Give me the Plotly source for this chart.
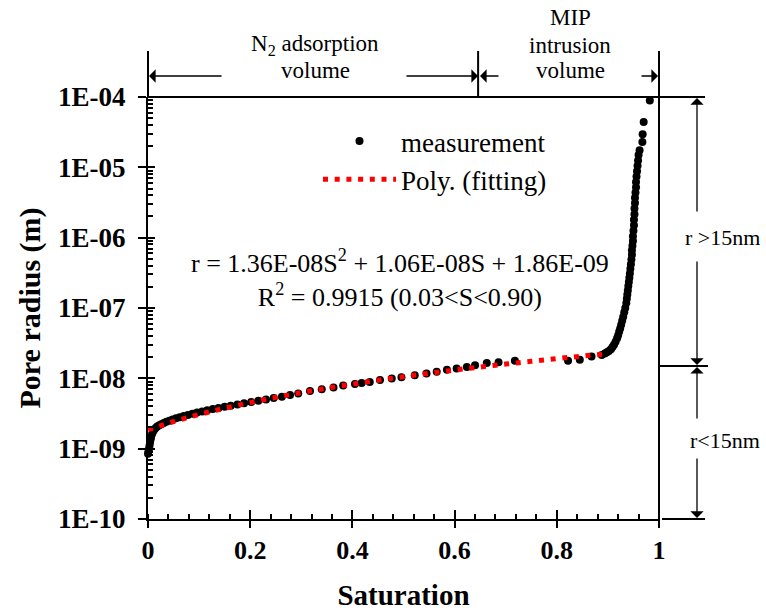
import math
import plotly.graph_objects as go

# ---------------- data ----------------
# N2 adsorption part of the measurement
S_N2 = [0.000, 0.001, 0.002, 0.003, 0.004, 0.005, 0.006, 0.008, 0.010, 0.012,
        0.015, 0.018, 0.022, 0.026, 0.031, 0.036, 0.042, 0.048, 0.055, 0.062,
        0.070, 0.078, 0.087, 0.096, 0.106, 0.116, 0.127, 0.138, 0.150, 0.162,
        0.175, 0.188, 0.202, 0.216, 0.231, 0.246, 0.262, 0.278, 0.294, 0.317,
        0.340, 0.363, 0.382, 0.405, 0.418, 0.434, 0.454, 0.477, 0.496, 0.522,
        0.545, 0.565, 0.585, 0.604, 0.624, 0.640, 0.663, 0.686, 0.718, 0.822,
        0.845, 0.868, 0.888]
R_N2 = [0.85e-9, 0.92e-9, 1.00e-9, 1.10e-9, 1.22e-9, 1.35e-9, 1.47e-9, 1.62e-9, 1.75e-9, 1.86e-9,
        1.97e-9, 2.06e-9, 2.15e-9, 2.23e-9, 2.32e-9, 2.41e-9, 2.50e-9, 2.60e-9, 2.70e-9, 2.80e-9,
        2.91e-9, 3.02e-9, 3.14e-9, 3.26e-9, 3.38e-9, 3.51e-9, 3.65e-9, 3.79e-9, 3.94e-9, 4.09e-9,
        4.26e-9, 4.43e-9, 4.62e-9, 4.81e-9, 5.02e-9, 5.24e-9, 5.48e-9, 5.80e-9, 6.10e-9, 6.60e-9,
        7.00e-9, 7.40e-9, 7.90e-9, 8.30e-9, 8.60e-9, 8.90e-9, 9.45e-9, 9.95e-9, 10.4e-9, 11.1e-9,
        11.7e-9, 12.4e-9, 13.2e-9, 13.8e-9, 14.5e-9, 15.3e-9, 16.5e-9, 17.0e-9, 17.8e-9, 17.8e-9,
        18.4e-9, 20.4e-9, 21.5e-9]

# MIP intrusion part of the measurement
S_MIP = [0.894, 0.898, 0.902, 0.906, 0.909, 0.912, 0.915, 0.918, 0.920, 0.922,
         0.924, 0.926, 0.928, 0.930, 0.932, 0.934, 0.936, 0.937, 0.938, 0.939,
         0.940, 0.941, 0.942, 0.943, 0.944, 0.945, 0.946, 0.947, 0.947, 0.948,
         0.949, 0.949, 0.950, 0.951, 0.951, 0.952, 0.952, 0.953, 0.953, 0.954,
         0.955, 0.955, 0.956, 0.957, 0.958, 0.959, 0.960, 0.962, 0.9675, 0.968,
         0.970, 0.982]
R_MIP = [2.25e-8, 2.35e-8, 2.45e-8, 2.6e-8, 2.8e-8, 3.0e-8, 3.3e-8, 3.7e-8, 4.1e-8, 4.6e-8,
         5.1e-8, 5.8e-8, 6.6e-8, 7.5e-8, 8.7e-8, 1.0e-7, 1.18e-7, 1.35e-7, 1.55e-7, 1.78e-7,
         2.05e-7, 2.35e-7, 2.7e-7, 3.1e-7, 3.6e-7, 4.2e-7, 4.9e-7, 5.7e-7, 6.6e-7, 7.7e-7,
         9.0e-7, 1.05e-6, 1.25e-6, 1.5e-6, 1.8e-6, 2.15e-6, 2.6e-6, 3.1e-6, 3.7e-6, 4.4e-6,
         5.2e-6, 6.2e-6, 7.4e-6, 8.8e-6, 1.05e-5, 1.25e-5, 1.5e-5, 1.75e-5, 2.3e-5, 2.95e-5,
         4.4e-5, 8.9e-5]

# polynomial fitting curve (red dotted line)
S_FIT = [0.00, 0.05, 0.10, 0.15, 0.20, 0.25, 0.30, 0.35, 0.40, 0.45,
         0.50, 0.55, 0.60, 0.65, 0.70, 0.75, 0.80, 0.85, 0.90]
R_FIT = [1.860e-9, 2.424e-9, 3.056e-9, 3.756e-9, 4.524e-9, 5.360e-9, 6.264e-9, 7.236e-9,
         8.276e-9, 9.384e-9, 1.056e-8, 1.180e-8, 1.312e-8, 1.450e-8, 1.594e-8, 1.746e-8,
         1.904e-8, 2.070e-8, 2.242e-8]

X_TICK_VALS = [0, 0.2, 0.4, 0.6, 0.8, 1]
X_TICK_TEXT = ["0", "0.2", "0.4", "0.6", "0.8", "1"]
Y_TICK_VALS = [1e-10, 1e-9, 1e-8, 1e-7, 1e-6, 1e-5, 1e-4]
Y_TICK_TEXT = ["1E-10", "1E-09", "1E-08", "1E-07", "1E-06", "1E-05", "1E-04"]

S_BOUNDARY = 0.646          # N2 / MIP boundary
R_THRESHOLD = 15e-9         # 15 nm

# ---------------- layout helpers ----------------
W, H = 766, 611
ML, MR, MT, MB = 148, 107, 97, 92
PW, PH = W - ML - MR, H - MT - MB
Y_LOG_MIN, Y_LOG_MAX = -10, -4


def px_x(p):
    return (p - ML) / PW


def px_y(p):
    return (H - MB - p) / PH


y_thr = (math.log10(R_THRESHOLD) - Y_LOG_MIN) / (Y_LOG_MAX - Y_LOG_MIN)

FONT = "'Liberation Serif', 'Times New Roman', Tinos, serif"
BLACK = "black"

fig = go.Figure()
fig.add_trace(go.Scatter(
    x=S_N2 + S_MIP, y=R_N2 + R_MIP, mode="markers", name="measurement",
    marker=dict(color=BLACK, size=8), cliponaxis=False))
fig.add_trace(go.Scatter(
    x=S_FIT, y=R_FIT, mode="lines", name="Poly. (fitting)",
    line=dict(color="#ff0000", width=5, dash="5px,6.7px", shape="spline")))
fig.add_trace(go.Scatter(x=[None], y=[None], xaxis="x2", yaxis="y2",
                         showlegend=False, hoverinfo="skip"))

minor_y = [d * 10.0 ** e for e in range(Y_LOG_MIN, Y_LOG_MAX) for d in range(2, 10)]

fig.update_layout(
    width=W, height=H,
    margin=dict(l=ML, r=MR, t=MT, b=MB, autoexpand=False),
    paper_bgcolor="white", plot_bgcolor="white",
    font=dict(family=FONT, color=BLACK),
    showlegend=True,
    legend=dict(x=px_x(318), y=px_y(117), xanchor="left", yanchor="top",
                bgcolor="rgba(0,0,0,0)", borderwidth=0,
                font=dict(family=FONT, size=27, color=BLACK),
                itemwidth=73, tracegroupgap=0),
    xaxis=dict(range=[0, 1], tickmode="array", tickvals=X_TICK_VALS, ticktext=X_TICK_TEXT,
               automargin=False,
               showgrid=False, zeroline=False, showline=True, linecolor=BLACK, linewidth=2,
               ticks="outside", ticklen=7, tickwidth=1.5, tickcolor=BLACK,
               minor=dict(ticks="inside", ticklen=5, tickwidth=1.5, tickcolor=BLACK,
                          tickmode="linear", tick0=0, dtick=0.04, showgrid=False),
               tickfont=dict(family=FONT, size=26, color=BLACK, weight="bold"),
               ticklabelstandoff=0,
               title=dict(text="Saturation", standoff=20,
                          font=dict(family=FONT, size=29, color=BLACK, weight="bold"))),
    yaxis=dict(type="log", range=[Y_LOG_MIN, Y_LOG_MAX], tickmode="array",
               tickvals=Y_TICK_VALS, ticktext=Y_TICK_TEXT,
               automargin=False,
               showgrid=False, zeroline=False, showline=True, linecolor=BLACK, linewidth=2,
               ticks="outside", ticklen=8, tickwidth=1.5, tickcolor=BLACK,
               minor=dict(ticks="inside", ticklen=5, tickwidth=1.5, tickcolor=BLACK,
                          tickmode="array", tickvals=minor_y, showgrid=False),
               tickfont=dict(family=FONT, size=27, color=BLACK, weight="bold"),
               ticklabelstandoff=7,
               title=dict(text="Pore radius (m)", standoff=9,
                          font=dict(family=FONT, size=30, color=BLACK, weight="bold"))),
    xaxis2=dict(overlaying="x", anchor="y2", side="bottom", range=[0, 1], automargin=False,
                tickmode="array", tickvals=X_TICK_VALS, showticklabels=False,
                ticks="inside", ticklen=9, tickwidth=1.5, tickcolor=BLACK,
                showgrid=False, zeroline=False, showline=False),
    yaxis2=dict(overlaying="y", anchor="x2", side="left", type="log", automargin=False,
                range=[Y_LOG_MIN, Y_LOG_MAX], tickmode="array", tickvals=Y_TICK_VALS,
                showticklabels=False, ticks="inside", ticklen=7, tickwidth=1.5,
                tickcolor=BLACK, showgrid=False, zeroline=False, showline=False),
)

# ---------------- frame lines ----------------
LW = 2
shapes = [
    dict(type="line", xref="paper", yref="paper", x0=0, x1=px_x(705), y0=1, y1=1),
    dict(type="line", xref="paper", yref="paper", x0=0, x1=0, y0=1, y1=px_y(51)),
    dict(type="line", xref="paper", yref="paper", x0=S_BOUNDARY, x1=S_BOUNDARY, y0=1, y1=px_y(51)),
    dict(type="line", xref="paper", yref="paper", x0=1, x1=1, y0=px_y(525), y1=px_y(51)),
    dict(type="line", xref="paper", yref="paper", x0=1, x1=px_x(708), y0=y_thr, y1=y_thr),
    dict(type="line", xref="paper", yref="paper", x0=px_x(662), x1=px_x(705), y0=0, y1=0),
]
for s in shapes:
    s["line"] = dict(color=BLACK, width=LW)
fig.update_layout(shapes=shapes)

ann = []


def text(xp, yp, t, size=23, xanchor="center"):
    ann.append(dict(xref="paper", yref="paper", x=px_x(xp), y=px_y(yp), text=t,
                    showarrow=False, xanchor=xanchor, yanchor="middle",
                    font=dict(family=FONT, size=size, color=BLACK)))


def arrow(x_tip, y_tip, x_tail, y_tail):
    ann.append(dict(xref="paper", yref="paper", x=px_x(x_tip), y=px_y(y_tip),
                    ax=x_tail - x_tip, ay=y_tail - y_tip, axref="pixel", ayref="pixel",
                    text="", showarrow=True, arrowhead=1, arrowsize=1.7, arrowwidth=1.3,
                    arrowcolor=BLACK, standoff=0, startstandoff=0))


# top annotations
text(315, 45, "N<sub>2</sub> adsorption")
text(315, 71, "volume")
text(570, 18, "MIP")
text(570, 45, "intrusion")
text(570, 71, "volume")
arrow(149, 76, 223, 76)
arrow(478, 76, 405, 76)
arrow(480, 76, 500, 76)
arrow(658, 76, 640, 76)

# right annotations
y_thr_px = H - MB - y_thr * PH
arrow(697, 98, 697, 213)
arrow(697, y_thr_px - 1, 697, 260)
arrow(697, y_thr_px + 1, 697, 420)
arrow(697, 518, 697, 457)
text(762, 238, "r &gt;15nm", size=22, xanchor="right")
text(762, 440, "r&lt;15nm", size=22, xanchor="right")

# equation
ann.append(dict(xref="paper", yref="paper", x=px_x(400), y=px_y(278),
                text="r = 1.36E-08S<sup>2</sup> + 1.06E-08S + 1.86E-09<br>R<sup>2</sup> = 0.9915 (0.03&lt;S&lt;0.90)",
                showarrow=False, xanchor="center", yanchor="middle", align="center",
                font=dict(family=FONT, size=26, color=BLACK)))

fig.update_layout(annotations=ann)

fig.write_html("out.html")
